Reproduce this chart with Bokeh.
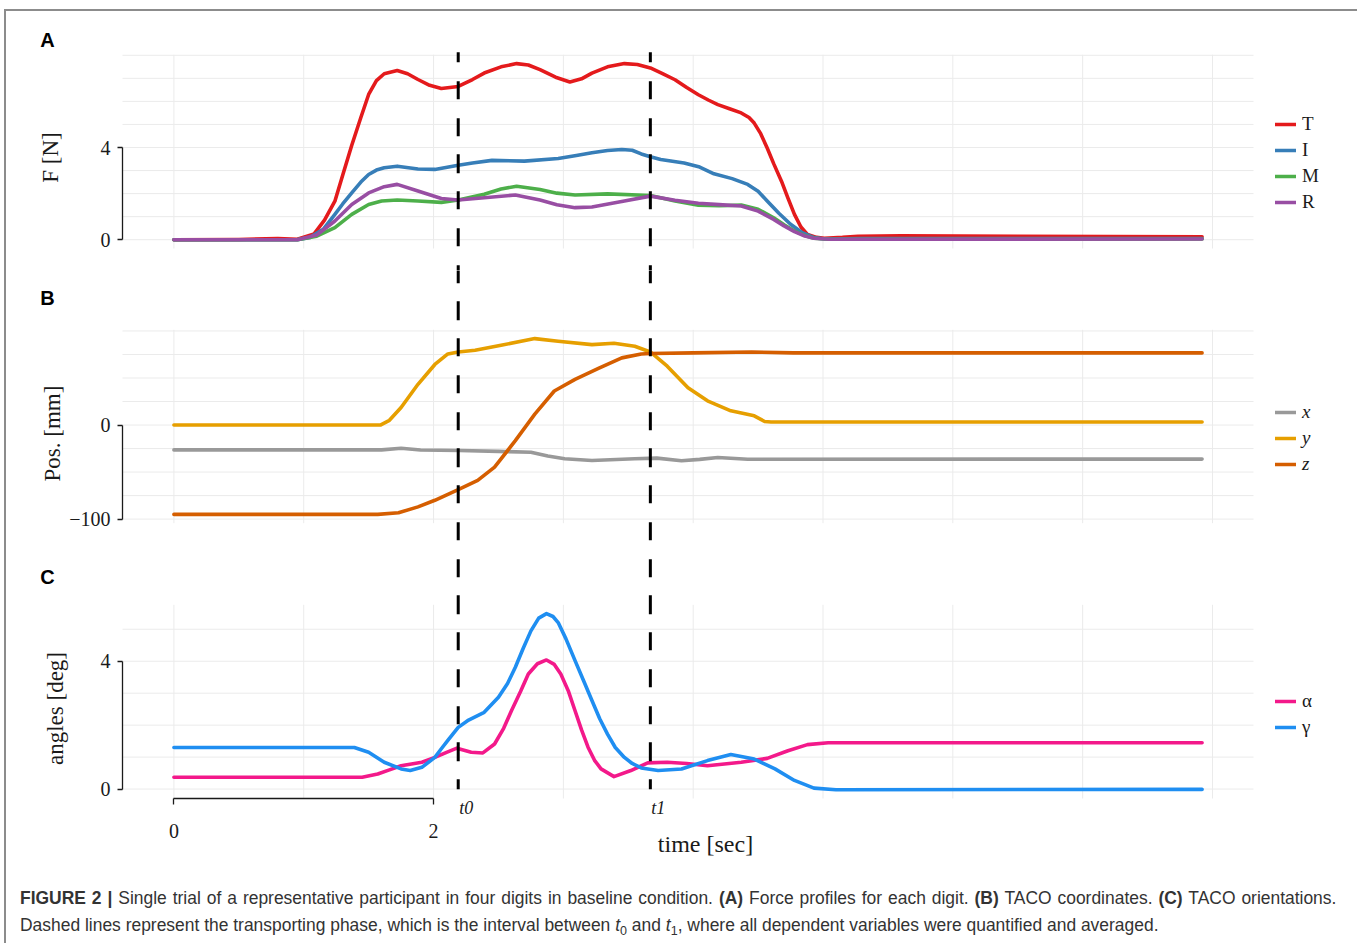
import numpy as np
from bokeh.plotting import figure
from bokeh.models import Range1d, FixedTicker, Legend, LegendItem, Label, Div
from bokeh.layouts import column
from bokeh.embed import file_html
from bokeh.resources import INLINE

# ------------------------------------------------------------------ data
# (A) force per digit [N]
T_t = [0, 0.5, 0.8, 0.95, 1.08, 1.16, 1.24, 1.30, 1.37, 1.44, 1.50, 1.56, 1.62, 1.72, 1.80, 1.88,
       1.97, 2.06, 2.19, 2.30, 2.39, 2.52, 2.64, 2.73, 2.82, 2.94, 3.05, 3.14, 3.22, 3.34, 3.47,
       3.57, 3.67, 3.76, 3.86, 3.95, 4.04, 4.12, 4.19, 4.28, 4.37, 4.43, 4.47, 4.52, 4.57, 4.62,
       4.68, 4.73, 4.78, 4.83, 4.88, 4.95, 5.01, 5.15, 5.27, 5.6, 6.5, 7.92]
T_v = [0, 0.01, 0.05, 0.02, 0.25, 0.85, 1.67, 2.8, 4.1, 5.3, 6.3, 6.9, 7.2, 7.34, 7.2, 6.95,
       6.7, 6.56, 6.65, 6.95, 7.23, 7.5, 7.64, 7.58, 7.38, 7.05, 6.84, 6.98, 7.23, 7.5, 7.64,
       7.6, 7.45, 7.22, 6.94, 6.6, 6.29, 6.05, 5.86, 5.68, 5.5, 5.3, 5.06, 4.6, 3.98, 3.3,
       2.54, 1.8, 1.1, 0.55, 0.23, 0.1, 0.06, 0.1, 0.15, 0.17, 0.15, 0.13]
I_t = [0, 0.95, 1.05, 1.15, 1.24, 1.30, 1.37, 1.44, 1.50, 1.56, 1.62, 1.72, 1.88, 2.01, 2.19,
       2.30, 2.45, 2.70, 2.96, 3.10, 3.22, 3.34, 3.45, 3.53, 3.60, 3.67, 3.75, 3.93, 4.05, 4.16,
       4.30, 4.42, 4.50, 4.57, 4.66, 4.75, 4.84, 4.93, 5.01, 5.3, 7.92]
I_v = [0, 0.0, 0.1, 0.45, 1.1, 1.55, 2.03, 2.5, 2.83, 3.02, 3.12, 3.19, 3.07, 3.05, 3.23,
       3.33, 3.44, 3.41, 3.52, 3.65, 3.77, 3.87, 3.91, 3.88, 3.72, 3.6, 3.48, 3.33, 3.15, 2.86,
       2.65, 2.40, 2.1, 1.68, 1.15, 0.67, 0.3, 0.09, 0.03, 0.05, 0.05]
M_t = [0, 0.95, 1.10, 1.24, 1.37, 1.50, 1.60, 1.72, 1.88, 2.06, 2.19, 2.39, 2.52, 2.64, 2.82,
       2.95, 3.09, 3.34, 3.67, 3.86, 4.04, 4.2, 4.37, 4.50, 4.62, 4.70, 4.78, 4.86, 4.93, 5.05, 7.92]
M_v = [0, 0, 0.15, 0.52, 1.1, 1.53, 1.68, 1.72, 1.68, 1.62, 1.72, 1.97, 2.2, 2.32, 2.18,
       2.02, 1.94, 1.99, 1.92, 1.68, 1.50, 1.47, 1.50, 1.32, 0.95, 0.65, 0.38, 0.18, 0.06, 0.02, 0.03]
R_t = [0, 0.95, 1.10, 1.24, 1.37, 1.50, 1.62, 1.72, 1.88, 2.06, 2.19, 2.39, 2.63, 2.82, 2.95,
       3.09, 3.22, 3.47, 3.67, 3.86, 4.04, 4.2, 4.37, 4.50, 4.62, 4.70, 4.78, 4.86, 4.93, 5.05, 7.92]
R_v = [0, 0, 0.2, 0.81, 1.53, 2.03, 2.3, 2.40, 2.11, 1.79, 1.72, 1.82, 1.94, 1.72, 1.52,
       1.39, 1.42, 1.68, 1.89, 1.71, 1.58, 1.52, 1.46, 1.24, 0.88, 0.6, 0.35, 0.16, 0.06, 0.02, 0.03]

# (B) TACO coordinates [mm]
x_t = [0, 1.6, 1.75, 1.9, 2.2, 2.5, 2.75, 2.88, 3.01, 3.22, 3.55, 3.72, 3.91, 4.05, 4.19, 4.42, 7.92]
x_v = [-26.4, -26.4, -24.7, -26.5, -27, -28, -28.9, -33, -35.9, -37.7, -35.9, -35.2, -38, -36.5,
       -34.5, -36.3, -36.2]
y_t = [0, 1.59, 1.66, 1.75, 1.88, 2.01, 2.11, 2.19, 2.32, 2.52, 2.78, 2.96, 3.22, 3.39, 3.55,
       3.67, 3.80, 3.96, 4.11, 4.29, 4.47, 4.55, 4.6, 7.92]
y_v = [0, 0, 5, 18.6, 43.3, 64.4, 75.6, 77.7, 79.5, 84.8, 91.9, 89, 85.5, 86.9, 83.7,
       77.7, 62.6, 39.7, 25.7, 15.1, 9.8, 3.8, 3.3, 3.3]
z_t = [0, 1.57, 1.73, 1.88, 2.01, 2.19, 2.34, 2.47, 2.63, 2.78, 2.93, 3.09, 3.27, 3.45, 3.60,
       3.67, 4.0, 4.45, 4.77, 7.92]
z_v = [-95, -95, -93.3, -87, -80, -68.6, -58.8, -44.8, -16.6, 11.6, 36.2, 48.6, 60.2, 71.4, 75.6,
       76.0, 76.7, 77.7, 76.7, 76.7]

# (C) TACO orientations [deg]
alpha_t = [0, 1.45, 1.57, 1.66, 1.75, 1.91, 2.01, 2.10, 2.18, 2.29, 2.38, 2.47, 2.54, 2.60, 2.67,
           2.73, 2.80, 2.87, 2.93, 2.98, 3.04, 3.09, 3.14, 3.19, 3.24, 3.29, 3.39, 3.52, 3.65,
           3.80, 3.95, 4.11, 4.37, 4.57, 4.73, 4.88, 5.04, 7.92]
alpha_v = [0.37, 0.37, 0.47, 0.6, 0.73, 0.84, 0.99, 1.15, 1.28, 1.15, 1.13, 1.41, 1.9, 2.45, 3.05,
           3.6, 3.92, 4.04, 3.9, 3.6, 3.05, 2.45, 1.85, 1.31, 0.9, 0.63, 0.39, 0.58, 0.82,
           0.84, 0.8, 0.73, 0.84, 0.96, 1.2, 1.39, 1.45, 1.45]
gamma_t = [0, 1.39, 1.50, 1.62, 1.75, 1.82, 1.91, 2.01, 2.06, 2.11, 2.19, 2.27, 2.39, 2.50, 2.57,
           2.63, 2.69, 2.75, 2.81, 2.87, 2.92, 2.96, 3.02, 3.09, 3.16, 3.22, 3.28, 3.34, 3.40,
           3.47, 3.53, 3.60, 3.73, 3.91, 4.11, 4.29, 4.47, 4.63, 4.78, 4.93, 5.1, 7.92]
gamma_v = [1.30, 1.30, 1.15, 0.84, 0.63, 0.58, 0.68, 0.99, 1.26, 1.52, 1.93, 2.16, 2.40, 2.87, 3.3,
           3.81, 4.4, 4.95, 5.35, 5.49, 5.4, 5.21, 4.7, 4.02, 3.35, 2.77, 2.2, 1.72, 1.3,
           0.99, 0.8, 0.66, 0.58, 0.63, 0.89, 1.08, 0.94, 0.63, 0.27, 0.03, -0.02, -0.01]

# transport phase limits [s]
t0 = 2.19
t1 = 3.67
phase_labels = ["t0", "t1"]

time_ticks = [0, 2]
time_grid = [0, 1, 2, 3, 4, 5, 6, 7, 8]
force_ticks = [0, 4]
force_grid = [0, 1, 2, 3, 4, 5, 6, 7, 8]
pos_ticks = [-100, 0]
pos_grid = [-100, -75, -50, -25, 0, 25, 50, 75, 100]
angle_ticks = [0, 4]
angle_grid = [0, 1, 2, 3, 4, 5]

# ------------------------------------------------------------------ layout (page px)
SERIF = "Liberation Serif"
SANS = "Liberation Sans"
INK = "#1a1a1a"
GRID = "#ebebeb"
BORDER = "#8c8c8c"
FIG_LEFT, FIG_RIGHT = 6, 1352          # inside the 2px outer border (border starts at x=4)
FIG_W = FIG_RIGHT - FIG_LEFT
PANEL_L, PANEL_R = 122, 1253
DASH_TOP, DASH_BOT = 51.7, 788.7
LEG_X = 1275
ROW_H, ROW_GAP = 22, 4

all_t = T_t + I_t + M_t + R_t + x_t + y_t + z_t + alpha_t + gamma_t
tmin, tmax = min(all_t), max(all_t)
XLO = tmin - 0.05 * (tmax - tmin)
XHI = tmax + 0.05 * (tmax - tmin)


def xd(px):
    return XLO + (px - PANEL_L) * (XHI - XLO) / (PANEL_R - PANEL_L)


def make_panel(series, grid_vals, ticks, ytitle, letter, lay, leg_first, italic=False):
    vals = [v for s in series for v in s[1]]
    vmin, vmax = min(vals), max(vals)
    lo = vmin - 0.05 * (vmax - vmin)
    hi = vmax + 0.05 * (vmax - vmin)
    k = (hi - lo) / (lay["panel_bot"] - lay["panel_top"])

    def yd(px):
        return lo + (lay["panel_bot"] - px) * k

    p = figure(width=FIG_W, height=lay["bot"] - lay["top"],
               x_range=Range1d(xd(FIG_LEFT), xd(FIG_RIGHT)),
               y_range=Range1d(yd(lay["bot"]), yd(lay["top"])),
               output_backend="svg", toolbar_location=None, tools="",
               x_axis_location="below" if lay.get("xaxis") else None,
               min_border_left=0, min_border_right=0, min_border_top=0, min_border_bottom=0,
               outline_line_color=None, background_fill_color="white",
               border_fill_color="white")
    p.xgrid.visible = False
    p.ygrid.visible = False

    # panel grid (only inside the panel area)
    p.segment(x0=time_grid, y0=[lo] * len(time_grid), x1=time_grid, y1=[hi] * len(time_grid),
              line_color=GRID, line_width=1)
    p.segment(x0=[XLO] * len(grid_vals), y0=grid_vals, x1=[XHI] * len(grid_vals), y1=grid_vals,
              line_color=GRID, line_width=1)

    # y axis: range-frame line between the two ticks, at the panel's left edge
    ax = p.yaxis[0]
    ax.fixed_location = XLO
    ax.ticker = FixedTicker(ticks=ticks)
    ax.bounds = (min(ticks), max(ticks))
    ax.major_tick_out = 5
    ax.major_tick_in = 0
    ax.minor_tick_out = 0
    ax.minor_tick_in = 0
    ax.axis_line_color = INK
    ax.axis_line_width = 1.3
    ax.major_tick_line_color = INK
    ax.major_tick_line_width = 1.3
    ax.major_label_text_font = SERIF
    ax.major_label_text_font_size = "20px"
    ax.major_label_text_color = INK
    ax.major_label_standoff = 7

    items = []
    for (tt, vv, color, lab) in series:
        r = p.line(tt, vv, line_color=color, line_width=3.6, line_join="round", line_cap="round")
        items.append(LegendItem(label=lab, renderers=[r]))

    # dashed transport-phase lines (same pixel start in every panel keeps the dashes in phase)
    p.segment(x0=[t0, t1], y0=[yd(DASH_TOP)] * 2, x1=[t0, t1], y1=[yd(DASH_BOT)] * 2,
              line_color="black", line_width=3, line_dash="18 19 18 19 18 18 19 18",
              line_dash_offset=8)

    n = len(items)
    leg_h = n * ROW_H + (n - 1) * ROW_GAP
    leg_top = leg_first - ROW_H / 2
    leg = Legend(items=items,
                 location=(LEG_X - FIG_LEFT, lay["bot"] - (leg_top + leg_h)),
                 orientation="vertical", padding=0, margin=0, spacing=ROW_GAP,
                 glyph_width=21, glyph_height=ROW_H, label_height=ROW_H, label_standoff=6,
                 border_line_color=None, background_fill_alpha=0,
                 label_text_font=SERIF, label_text_font_size="19px",
                 label_text_color=INK,
                 label_text_font_style="italic" if italic else "normal")
    p.add_layout(leg)

    p.add_layout(Label(x=xd(47), y=yd(lay["letter_y"]), text=letter, text_font=SANS,
                       text_font_style="bold", text_font_size="20px", text_color="black",
                       text_align="center", text_baseline="middle"))
    p.add_layout(Label(x=xd(lay["title_x"]), y=yd(lay["title_y"]), text=ytitle, text_font=SERIF,
                       text_font_size="23px", text_color=INK, angle=np.pi / 2,
                       text_align="center", text_baseline="middle"))
    return p, yd, lo


layA = dict(top=11, bot=270, panel_top=54.3, panel_bot=248, letter_y=39, title_x=50, title_y=157)
layB = dict(top=270, bot=555, panel_top=329.3, panel_bot=522.7, letter_y=297, title_x=52,
            title_y=433)
layC = dict(top=555, bot=870, panel_top=604.3, panel_bot=798, letter_y=576, title_x=55,
            title_y=708, xaxis=True)

pA, ydA, loA = make_panel([(T_t, T_v, "#e41a1c", "T"), (I_t, I_v, "#377eb8", "I"),
                           (M_t, M_v, "#4daf4a", "M"), (R_t, R_v, "#984ea3", "R")],
                          force_grid, force_ticks, "F [N]", "A", layA, 124)
pB, ydB, loB = make_panel([(x_t, x_v, "#999999", "x"), (y_t, y_v, "#e69f00", "y"),
                           (z_t, z_v, "#d55e00", "z")],
                          pos_grid, pos_ticks, "Pos. [mm]", "B", layB, 412, italic=True)
pC, ydC, loC = make_panel([(alpha_t, alpha_v, "#f3198a", "α"),
                           (gamma_t, gamma_v, "#1f8ef1", "γ")],
                          angle_grid, angle_ticks, "angles [deg]", "C", layC, 701)

xa = pC.xaxis[0]
xa.fixed_location = loC
xa.ticker = FixedTicker(ticks=time_ticks)
xa.bounds = (min(time_ticks), max(time_ticks))
xa.major_tick_out = 6
xa.major_tick_in = 0
xa.minor_tick_out = 0
xa.minor_tick_in = 0
xa.axis_line_color = INK
xa.axis_line_width = 1.3
xa.major_tick_line_color = INK
xa.major_tick_line_width = 1.3
xa.major_label_text_font = SERIF
xa.major_label_text_font_size = "20px"
xa.major_label_text_color = INK
xa.major_label_standoff = 19

for tv, lab in zip([t0, t1], phase_labels):
    pC.add_layout(Label(x=tv, y=ydC(807), text=lab, text_font=SERIF, text_font_style="italic",
                        text_font_size="18px", text_color=INK, text_align="left",
                        text_baseline="middle", x_offset=1))
pC.add_layout(Label(x=xd(705), y=ydC(843), text="time [sec]", text_font=SERIF,
                    text_font_size="24px", text_color=INK, text_align="center",
                    text_baseline="middle"))

caption_html = (
    '<div style="padding:10px 0 0 9px; font-family:\'Liberation Sans\', Arial, sans-serif; '
    'font-size:17.45px; line-height:27px; color:#333333; white-space:nowrap;">'
    '<span style="word-spacing:1.1px;">'
    '<b>FIGURE 2 |</b> Single trial of a representative participant in four digits in baseline '
    'condition. <b>(A)</b> Force profiles for each digit. <b>(B)</b> TACO coordinates. '
    '<b>(C)</b> TACO orientations.</span><br>'
    'Dashed lines represent the transporting phase, which is the interval between '
    '<i>t</i><sub style="font-size:0.72em; line-height:0;">0</sub> and '
    '<i>t</i><sub style="font-size:0.72em; line-height:0;">1</sub>, where all dependent '
    'variables were quantified and averaged.</div>'
)
cap = Div(text=caption_html, width=FIG_W, height=72)

layout = column(pA, pB, pC, cap, spacing=0, margin=(9, 0, 0, 4),
                styles={"border-top": "2px solid " + BORDER, "border-left": "2px solid " + BORDER,
                        "border-right": "2px solid " + BORDER, "background-color": "white"})

open("out.html", "w").write(file_html(layout, INLINE, title="Figure 2"))
